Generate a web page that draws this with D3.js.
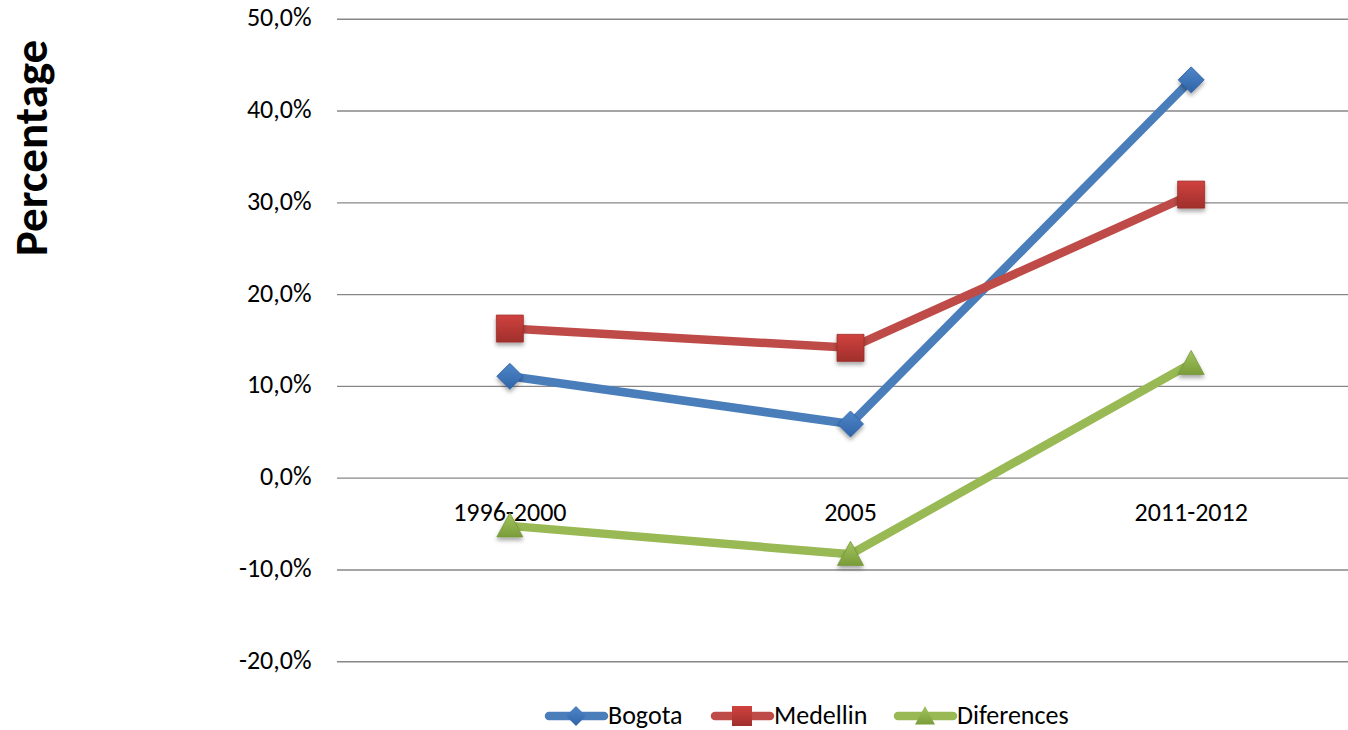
<!DOCTYPE html>
<html>
<head>
<meta charset="utf-8">
<script src="https://cdn.jsdelivr.net/npm/d3@7"></script>
<style>
  html, body { margin: 0; padding: 0; background: #fff; }
  svg { display: block; }
  text { font-family: Carlito, Lato, "Open Sans", sans-serif; fill: #000; }
</style>
</head>
<body>
<svg id="chart" width="1348" height="730"></svg>
<script>
// Periods on the category axis
const categories = ["1996-2000", "2005", "2011-2012"];
// Percentages per city and their difference
const bogota = [11.1, 5.9, 43.4];
const medellin = [16.3, 14.2, 30.9];
const diferences = [-5.2, -8.3, 12.5];
// Value axis ticks
const yTicks = [-20, -10, 0, 10, 20, 30, 40, 50];

const seriesNames = ["Bogota", "Medellin", "Diferences"];
const seriesValues = [bogota, medellin, diferences];
const seriesColors = ["#4a7ebb", "#be4b48", "#98b954"];
const markerFill = [["#4f86c9", "#2f64a8"], ["#d0423f", "#a02f2c"], ["#a2c55e", "#7a9c3a"]];
const markerShape = ["diamond", "square", "triangle"];

const svg = d3.select("#chart");
const defs = svg.append("defs");

markerFill.forEach((c, i) => {
  const g = defs.append("linearGradient").attr("id", "grad" + i)
    .attr("x1", 0).attr("y1", 0).attr("x2", 0).attr("y2", 1);
  g.append("stop").attr("offset", "0%").attr("stop-color", c[0]);
  g.append("stop").attr("offset", "100%").attr("stop-color", c[1]);
});
const shadow = defs.append("filter").attr("id", "shadow")
  .attr("x", "-50%").attr("y", "-50%").attr("width", "200%").attr("height", "200%");
shadow.append("feDropShadow").attr("dx", 0).attr("dy", 3).attr("stdDeviation", 2)
  .attr("flood-color", "#000").attr("flood-opacity", 0.35);

const plotLeft = 337;
const x = d3.scaleBand().domain(categories).range([339.5, 1361.5]);
const y = d3.scaleLinear().domain([-20, 50]).range([661.7, 19.3]);

// Horizontal gridlines
svg.append("g").selectAll("line").data(yTicks).join("line")
  .attr("x1", plotLeft).attr("x2", 1361.5)
  .attr("y1", d => y(d)).attr("y2", d => y(d))
  .attr("stroke", "#878787").attr("stroke-width", 1.4);

// Value axis labels
const fmt = d => d3.format(".1f")(d).replace(".", ",").replace("−", "-") + "%";
svg.append("g").selectAll("text").data(yTicks).join("text")
  .attr("x", 311.5).attr("y", d => y(d) + 7)
  .attr("text-anchor", "end").attr("font-size", 26)
  .text(fmt);

// Axis title
svg.append("text")
  .attr("transform", "translate(47,148) rotate(-90)")
  .attr("text-anchor", "middle").attr("font-size", 47).attr("font-weight", "bold")
  .text("Percentage");

// Category labels next to the zero line
svg.append("g").selectAll("text").data(categories).join("text")
  .attr("x", d => x(d) + x.bandwidth() / 2).attr("y", y(0) + 43)
  .attr("text-anchor", "middle").attr("font-size", 26)
  .text(d => d);

function markerPath(shape, s) {
  if (shape === "diamond") return `M0,${-s}L${s},0L0,${s}L${-s},0Z`;
  if (shape === "square") return `M${-s},${-s}H${s}V${s}H${-s}Z`;
  return `M0,${-s}L${s},${s * 0.85}H${-s}Z`;
}
const markerSize = [13, 13.5, 13];

const line = d3.line().x((d, i) => x(categories[i]) + x.bandwidth() / 2).y(d => y(d));

seriesValues.forEach((vals, si) => {
  const g = svg.append("g");
  g.append("path").datum(vals).attr("d", line)
    .attr("fill", "none").attr("stroke", seriesColors[si])
    .attr("stroke-width", 8.5).attr("stroke-linejoin", "round").attr("stroke-linecap", "round");
  g.selectAll("path.m").data(vals).join("path").attr("class", "m")
    .attr("transform", (d, i) => `translate(${x(categories[i]) + x.bandwidth() / 2},${y(d)})`)
    .attr("d", markerPath(markerShape[si], markerSize[si]))
    .attr("fill", `url(#grad${si})`)
    .attr("stroke", d3.color(markerFill[si][1]).darker(0.1))
    .attr("stroke-width", 0.8)
    .attr("filter", "url(#shadow)");
});

// Legend
const legendX = [546, 712, 895];
const legend = svg.append("g");
seriesNames.forEach((name, i) => {
  const g = legend.append("g").attr("transform", `translate(${legendX[i]},716)`);
  g.append("line").attr("x1", 3).attr("x2", 58).attr("y1", 0).attr("y2", 0)
    .attr("stroke", seriesColors[i]).attr("stroke-width", 8.5).attr("stroke-linecap", "round");
  g.append("path").attr("transform", "translate(30,0)")
    .attr("d", markerPath(markerShape[i], 10))
    .attr("fill", `url(#grad${i})`);
  g.append("text").attr("x", 62).attr("y", 8).attr("font-size", 26).text(name);
});
</script>
</body>
</html>
